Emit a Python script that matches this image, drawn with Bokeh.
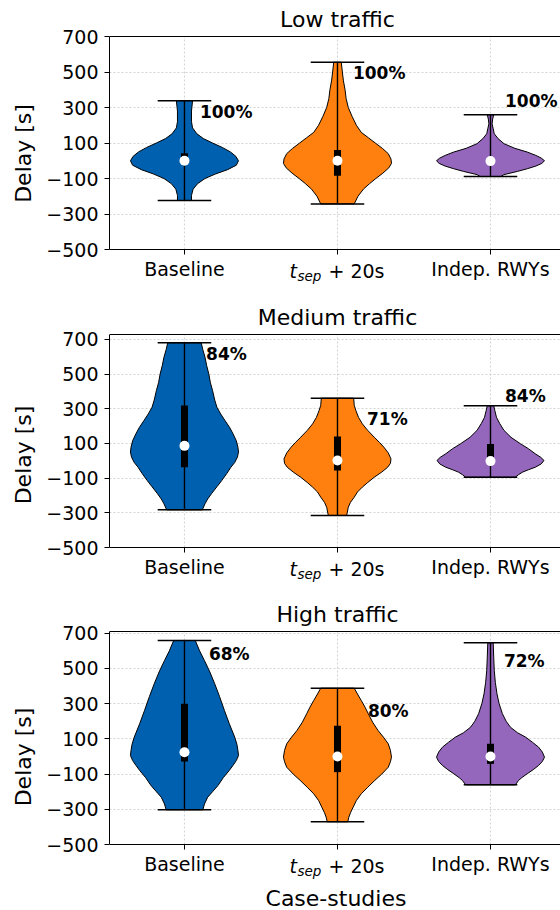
from bokeh.plotting import figure
from bokeh.models import Range1d, FixedTicker, Label, Span
from bokeh.layouts import column
from bokeh.embed import file_html
from bokeh.resources import INLINE
from bokeh.core.properties import value

# ---------------- data ----------------
categories = ["Baseline", "t_sep + 20s", "Indep. RWYs"]
positions = [1, 2, 3]
panel_titles = ["Low traffic", "Medium traffic", "High traffic"]
y_ticks = [-500, -300, -100, 100, 300, 500, 700]
y_tick_labels = ["\u2212500", "\u2212300", "\u2212100", "100", "300", "500", "700"]
y_axis_label = "Delay [s]"
x_axis_label = "Case-studies"
colors = ["#0060B0", "#FF800E", "#9467BD"]

# violin outlines: delay value [s] and relative half-width (1 = widest)
low_base_y = [338, 280, 220, 185, 152, 125, 100, 75, 50, 25, 0, -25, -50, -75, -100, -130, -160, -195, -224]
low_base_w = [0.15, 0.13, 0.13, 0.15, 0.23, 0.35, 0.52, 0.70, 0.85, 0.95, 1.00, 0.96, 0.80, 0.57, 0.38, 0.24, 0.16, 0.13, 0.13]
low_tsep_y = [555, 500, 450, 400, 350, 300, 250, 200, 160, 130, 100, 70, 40, 10, -15, -40, -70, -100, -130, -160, -200, -243]
low_tsep_w = [0.07, 0.09, 0.11, 0.14, 0.16, 0.20, 0.27, 0.35, 0.44, 0.57, 0.70, 0.83, 0.94, 0.99, 1.00, 0.95, 0.84, 0.71, 0.59, 0.48, 0.38, 0.31]
low_ind_y = [259, 235, 208, 180, 152, 125, 96, 70, 49, 30, 15, 0, -15, -30, -45, -60, -78, -89]
low_ind_w = [0.06, 0.04, 0.03, 0.05, 0.07, 0.14, 0.25, 0.45, 0.68, 0.84, 0.94, 1.00, 0.95, 0.84, 0.68, 0.50, 0.25, 0.19]

med_base_y = [680, 640, 597, 550, 501, 450, 405, 350, 309, 270, 232, 190, 155, 115, 78, 50, 21, -10, -37, -75, -114, -150, -190, -220, -248, -283]
med_base_w = [0.31, 0.34, 0.38, 0.41, 0.45, 0.48, 0.52, 0.56, 0.60, 0.67, 0.75, 0.84, 0.90, 0.96, 0.99, 1.00, 0.98, 0.93, 0.86, 0.78, 0.69, 0.60, 0.50, 0.43, 0.38, 0.33]
med_tsep_y = [361, 320, 290, 250, 213, 175, 136, 105, 78, 45, 11, -15, -37, -65, -95, -125, -152, -180, -210, -240, -268, -315]
med_tsep_w = [0.30, 0.31, 0.34, 0.39, 0.46, 0.56, 0.68, 0.78, 0.86, 0.94, 0.99, 0.98, 0.93, 0.82, 0.68, 0.56, 0.46, 0.37, 0.31, 0.24, 0.20, 0.17]
med_ind_y = [317, 290, 251, 215, 175, 135, 97, 70, 40, 20, 2, -18, -37, -52, -66, -80, -95]
med_ind_w = [0.06, 0.08, 0.11, 0.17, 0.25, 0.38, 0.56, 0.70, 0.83, 0.93, 0.99, 0.94, 0.83, 0.70, 0.59, 0.52, 0.46]

high_base_y = [659, 600, 545, 480, 413, 340, 261, 186, 110, 70, 34, 5, -23, -50, -79, -120, -165, -200, -231, -270, -303]
high_base_w = [0.20, 0.28, 0.37, 0.47, 0.56, 0.65, 0.74, 0.83, 0.93, 0.97, 0.99, 1.00, 0.96, 0.90, 0.83, 0.72, 0.62, 0.52, 0.43, 0.37, 0.34]
high_tsep_y = [388, 355, 318, 280, 243, 195, 148, 110, 72, 35, -4, -30, -61, -100, -136, -175, -212, -250, -288, -320, -345, -371]
high_tsep_w = [0.31, 0.37, 0.44, 0.51, 0.57, 0.65, 0.75, 0.85, 0.94, 0.98, 1.00, 0.98, 0.94, 0.82, 0.69, 0.56, 0.44, 0.35, 0.29, 0.24, 0.21, 0.19]
high_ind_y = [646, 560, 488, 420, 356, 300, 243, 200, 166, 135, 110, 80, 53, 25, -4, -28, -51, -75, -98, -120, -136, -161]
high_ind_w = [0.05, 0.06, 0.07, 0.09, 0.12, 0.16, 0.22, 0.29, 0.37, 0.50, 0.65, 0.78, 0.89, 0.96, 1.00, 0.96, 0.89, 0.79, 0.68, 0.58, 0.52, 0.46]

# summary statistics per case-study [s]
low_min = [-224, -243, -89]
low_q1 = [-15, -85, -15]
low_median = [0, 0, -2]
low_q3 = [42, 60, 15]
low_max = [338, 555, 259]
low_pct = ["100%", "100%", "100%"]

med_min = [-283, -315, -95]
med_q1 = [-37, -56, -20]
med_median = [86, 2, -2]
med_q3 = [319, 140, 97]
med_max = [680, 361, 317]
med_pct = ["84%", "71%", "84%"]

high_min = [-303, -371, -161]
high_q1 = [-28, -89, -42]
high_median = [24, 0, 0]
high_q3 = [299, 174, 72]
high_max = [659, 388, 646]
high_pct = ["68%", "80%", "72%"]

# ---------------- layout / style ----------------
FONT = "DejaVu Sans"
FRAME_H = 213             # pixel height of the visible axes box
EXT_TOPS = [36, 28, 28]   # pixels above the axes box (title area)
BOTTOMS = [57, 56, 66]    # pixels below the axes box (tick labels area)
BORDER_LEFT = 109
FIG_W = 560
Y_RANGES = [(-500, 700), (-500, 728), (-500, 710)]
X_RANGE = (0.51, 3.4575)
VIOLIN_HALF = 0.353
BAR_HALF = 0.175
# placement of the percentage annotations (x offset from violin centre, y in data)
pct_dx = [[0.101, 0.101, 0.095], [0.141, 0.193, 0.095], [0.160, 0.199, 0.088]]
pct_y = [[274, 493, 339], [617, 242, 376], [583, 261, 541]]

panels = [
    dict(ys=[low_base_y, low_tsep_y, low_ind_y], ws=[low_base_w, low_tsep_w, low_ind_w],
         mn=low_min, q1=low_q1, md=low_median, q3=low_q3, mx=low_max, pct=low_pct),
    dict(ys=[med_base_y, med_tsep_y, med_ind_y], ws=[med_base_w, med_tsep_w, med_ind_w],
         mn=med_min, q1=med_q1, md=med_median, q3=med_q3, mx=med_max, pct=med_pct),
    dict(ys=[high_base_y, high_tsep_y, high_ind_y], ws=[high_base_w, high_tsep_w, high_ind_w],
         mn=high_min, q1=high_q1, md=high_median, q3=high_q3, mx=high_max, pct=high_pct),
]


def dy(yr, px):
    return px * (yr[1] - yr[0]) / FRAME_H


figs = []
for i, pan in enumerate(panels):
    yr = Y_RANGES[i]
    full = (yr[0] - dy(yr, BOTTOMS[i]), yr[1] + dy(yr, EXT_TOPS[i]))
    p = figure(width=FIG_W, height=EXT_TOPS[i] + FRAME_H + BOTTOMS[i],
               x_range=Range1d(*X_RANGE), y_range=Range1d(*full),
               output_backend="svg", toolbar_location=None,
               min_border_left=BORDER_LEFT, min_border_right=0,
               min_border_top=0, min_border_bottom=0)
    p.outline_line_color = None
    p.background_fill_color = "white"
    p.border_fill_color = "white"

    # axes
    p.xaxis.fixed_location = yr[0]
    p.xaxis.ticker = FixedTicker(ticks=positions)
    p.xaxis.major_label_overrides = {1: categories[0], 2: "", 3: categories[2]}
    p.yaxis.ticker = FixedTicker(ticks=y_ticks)
    p.yaxis.bounds = yr
    p.yaxis.major_label_overrides = {t: l for t, l in zip(y_ticks, y_tick_labels)}
    for ax in (p.xaxis[0], p.yaxis[0]):
        ax.axis_line_color = "black"
        ax.axis_line_width = 1
        ax.major_tick_line_color = "black"
        ax.major_tick_out = 5
        ax.major_tick_in = 0
        ax.minor_tick_line_color = None
        ax.major_label_text_font = FONT
        ax.major_label_text_font_size = "19px"
        ax.major_label_text_color = "black"
    p.xaxis.major_label_standoff = 3
    p.yaxis.major_label_standoff = 6
    p.yaxis.axis_label = y_axis_label
    p.yaxis.axis_label_text_font = FONT
    p.yaxis.axis_label_text_font_size = "22px"
    p.yaxis.axis_label_text_font_style = "normal"
    p.yaxis.axis_label_text_color = "black"
    p.yaxis.axis_label_standoff = 7

    p.xgrid.visible = False
    g = p.ygrid[0]
    g.grid_line_color = "#c8c8c8"
    g.grid_line_dash = "2 2"
    g.grid_line_width = 0.8
    # vertical grid lines at the case-study positions, limited to the axes box
    p.segment(x0=positions, y0=[yr[0]] * 3, x1=positions, y1=[yr[1]] * 3,
              line_color="#c8c8c8", line_dash="2 2", line_width=0.8, level="underlay")

    p.add_layout(Span(location=yr[1], dimension="width", line_color="black", line_width=1))

    # violins
    for k, pos in enumerate(positions):
        ys = pan["ys"][k]
        ws = pan["ws"][k]
        xs_l = [pos - VIOLIN_HALF * w for w in ws]
        xs_r = [pos + VIOLIN_HALF * w for w in reversed(ws)]
        p.patch(xs_l + xs_r, list(ys) + list(reversed(ys)), fill_color=colors[k],
                line_color="black", line_width=1)
        p.segment(x0=[pos], y0=[pan["mn"][k]], x1=[pos], y1=[pan["mx"][k]],
                  line_color="black", line_width=1.4)
        p.segment(x0=[pos - BAR_HALF, pos - BAR_HALF], y0=[pan["mn"][k], pan["mx"][k]],
                  x1=[pos + BAR_HALF, pos + BAR_HALF], y1=[pan["mn"][k], pan["mx"][k]],
                  line_color="black", line_width=1.5)
        p.segment(x0=[pos], y0=[pan["q1"][k]], x1=[pos], y1=[pan["q3"][k]],
                  line_color="black", line_width=7, line_cap="butt")
        p.scatter(x=[pos], y=[pan["md"][k]], size=10, fill_color="white", line_color=None)

    p.text(x=[pos + d for pos, d in zip(positions, pct_dx[i])], y=pct_y[i], text=pan["pct"],
           text_font=value(FONT), text_font_style="bold", text_font_size="17px",
           text_baseline="middle", text_align="left", text_color="black")

    # panel title
    p.add_layout(Label(x=2, y=yr[1] + dy(yr, 17.5), text=panel_titles[i], text_align="center",
                       text_baseline="alphabetic", text_font=FONT, text_font_size="22px",
                       text_color="black"))
    # t_sep + 20s tick label (italic t with subscript)
    base = yr[0] - dy(yr, 21.5)
    sub = yr[0] - dy(yr, 26.9)
    p.add_layout(Label(x=2, y=base, x_offset=-48, text="t", text_font=FONT, text_font_style="italic",
                       text_font_size="19px", text_baseline="alphabetic", text_color="black"))
    p.add_layout(Label(x=2, y=sub, x_offset=-40, text="sep", text_font=FONT, text_font_style="italic",
                       text_font_size="13.5px", text_baseline="alphabetic", text_color="black"))
    p.add_layout(Label(x=2, y=base, x_offset=-9, text="+ 20s", text_font=FONT,
                       text_font_size="19px", text_baseline="alphabetic", text_color="black"))
    if i == 2:
        p.add_layout(Label(x=1.99, y=yr[0] - dy(yr, 53.5), text=x_axis_label, text_align="center",
                           text_baseline="alphabetic", text_font=FONT, text_font_size="22px",
                           text_color="black"))
    figs.append(p)

layout = column(*figs)
open("out.html", "w").write(file_html(layout, INLINE))
